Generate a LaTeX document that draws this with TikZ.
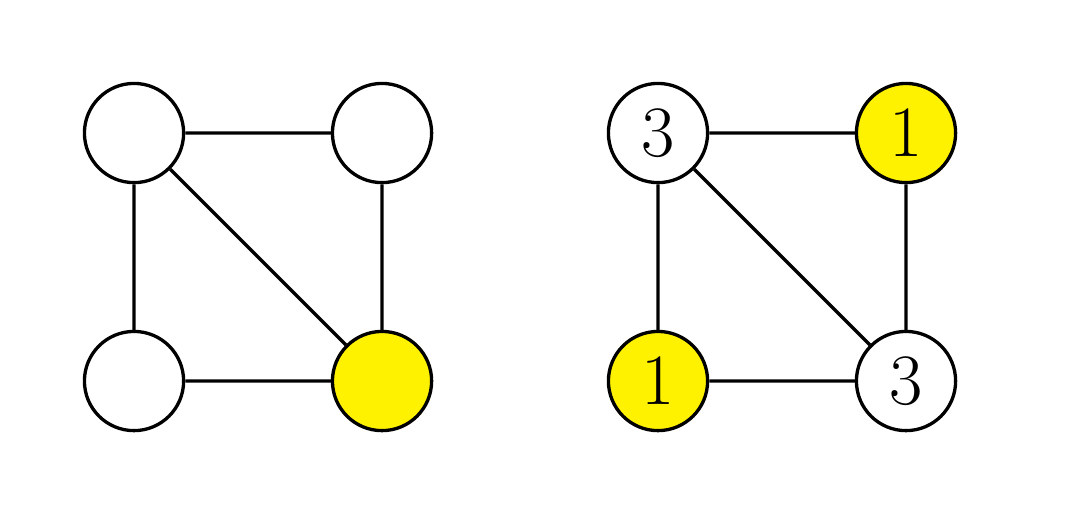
\documentclass[tikz,border=0pt]{standalone}
\usepackage{tikz}
\usetikzlibrary{positioning}
\definecolor{yellowx}{HTML}{FFF200}
\tikzset{
  vtx/.style={circle,draw=black,line width=0.95pt,fill=white,minimum size=1cm,inner sep=0pt,font=\huge},
  hit/.style={vtx,fill=yellowx},
  edge/.style={line width=0.95pt,black}
}
\begin{document}
\begin{tikzpicture}[node distance=2.5cm]
\useasboundingbox (-1.351,-1.371) rectangle (9.425,3.841);
% left graph
\node[vtx] (a1) at (0,2.5) {};
\node[vtx,right=of a1.center,anchor=center] (b1) {};
\node[vtx,below=of a1.center,anchor=center] (c1) {};
\node[hit,right=of c1.center,anchor=center] (d1) {};
\draw[edge] (a1)--(b1) (a1)--(c1) (a1)--(d1) (b1)--(d1) (c1)--(d1);
% right graph
\node[vtx] (a2) at (5.282,2.5) {$3$};
\node[hit,right=of a2.center,anchor=center] (b2) {$1$};
\node[hit,below=of a2.center,anchor=center] (c2) {$1$};
\node[vtx,right=of c2.center,anchor=center] (d2) {$3$};
\draw[edge] (a2)--(b2) (a2)--(c2) (a2)--(d2) (b2)--(d2) (c2)--(d2);
\end{tikzpicture}
\end{document}
